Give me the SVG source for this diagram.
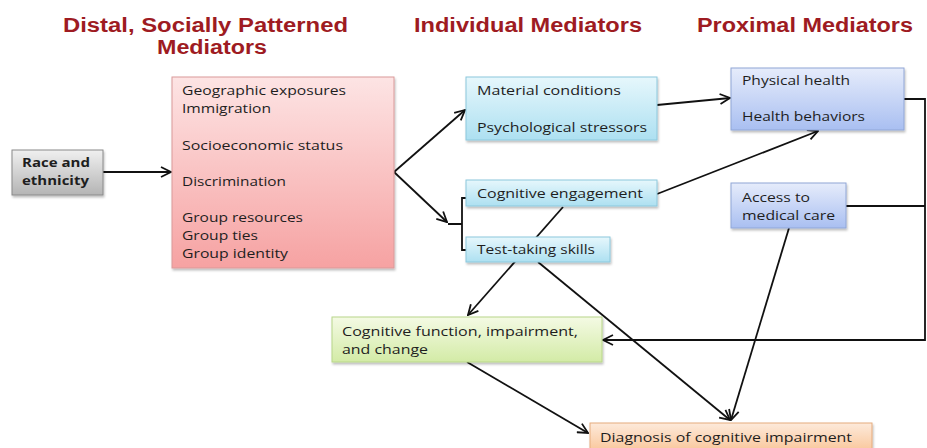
<svg xmlns="http://www.w3.org/2000/svg" width="927" height="448" viewBox="0 0 927 448">
<defs>
<linearGradient id="gGray" x1="0" y1="0" x2="0" y2="1"><stop offset="0" stop-color="#f0f0f0"/><stop offset="1" stop-color="#b4b4b4"/></linearGradient>
<linearGradient id="gPink" x1="0" y1="0" x2="0" y2="1"><stop offset="0" stop-color="#fde4e4"/><stop offset="1" stop-color="#f6a2a2"/></linearGradient>
<linearGradient id="gCyan" x1="0" y1="0" x2="0" y2="1"><stop offset="0" stop-color="#e6f7fc"/><stop offset="1" stop-color="#ade0f1"/></linearGradient>
<linearGradient id="gBlue" x1="0" y1="0" x2="0" y2="1"><stop offset="0" stop-color="#e6ecfb"/><stop offset="1" stop-color="#a9bff1"/></linearGradient>
<linearGradient id="gGreen" x1="0" y1="0" x2="0" y2="1"><stop offset="0" stop-color="#f4fae4"/><stop offset="1" stop-color="#d3eba6"/></linearGradient>
<linearGradient id="gOrange" x1="0" y1="0" x2="0" y2="1"><stop offset="0" stop-color="#fdeadb"/><stop offset="1" stop-color="#f9c292"/></linearGradient>
<filter id="sh" x="-10%" y="-10%" width="120%" height="130%"><feDropShadow dx="1" dy="2" stdDeviation="1.2" flood-color="#000" flood-opacity="0.25"/></filter>
<marker id="ah" viewBox="0 0 12 12" refX="11" refY="6" markerWidth="12" markerHeight="12" markerUnits="userSpaceOnUse" orient="auto">
<path d="M1,1 L11,6 L1,11" fill="none" stroke="#111" stroke-width="1.8"/>
</marker>
</defs>
<style>
.title{font-family:"Liberation Sans",Arial,sans-serif;font-weight:bold;font-size:20px;fill:#9e1b22}
.t{font-family:"Open Sans","DejaVu Sans",sans-serif;font-size:13px;fill:#1e1e1e}
.tb{font-family:"Open Sans","DejaVu Sans",sans-serif;font-size:13px;font-weight:bold;fill:#1e1e1e}
.box{stroke-width:1;filter:url(#sh)}
.c{fill:none;stroke:#111;stroke-width:1.8}
</style>
<rect width="927" height="448" fill="#ffffff"/>

<g id="titles">
<text class="title" x="63" y="32" textLength="285" lengthAdjust="spacingAndGlyphs">Distal, Socially Patterned</text>
<text class="title" x="157" y="54" textLength="110" lengthAdjust="spacingAndGlyphs">Mediators</text>
<text class="title" x="414" y="32" textLength="228" lengthAdjust="spacingAndGlyphs">Individual Mediators</text>
<text class="title" x="697" y="32" textLength="216" lengthAdjust="spacingAndGlyphs">Proximal Mediators</text>
</g>

<g id="connectors">
<line class="c" x1="103" y1="172" x2="171" y2="172" marker-end="url(#ah)"/>
<line class="c" x1="394" y1="172" x2="465" y2="110" marker-end="url(#ah)"/>
<line class="c" x1="394" y1="172" x2="447" y2="222" marker-end="url(#ah)"/>
<path class="c" d="M466,198 H462 V250 H466 M448,224 H462" stroke-width="1.6"/>
<line class="c" x1="657" y1="105" x2="730" y2="98" marker-end="url(#ah)"/>
<line class="c" x1="657" y1="194" x2="818" y2="131" marker-end="url(#ah)"/>
<line class="c" x1="563" y1="207" x2="468" y2="315" marker-end="url(#ah)"/>
<line class="c" x1="538" y1="262" x2="730" y2="420" marker-end="url(#ah)"/>
<line class="c" x1="789" y1="228" x2="731" y2="420" marker-end="url(#ah)"/>
<line class="c" x1="467" y1="362" x2="588" y2="433" marker-end="url(#ah)"/>
<polyline class="c" points="904,99 925,99 925,340 603,340" marker-end="url(#ah)"/>
<line class="c" x1="846" y1="206" x2="925" y2="206"/>
</g>

<g id="race">
<rect class="box" x="12" y="150" width="91" height="45" fill="url(#gGray)" stroke="#8a8a8a"/>
<text class="tb" x="22" y="167" textLength="68" lengthAdjust="spacingAndGlyphs">Race and</text>
<text class="tb" x="22" y="185" textLength="67" lengthAdjust="spacingAndGlyphs">ethnicity</text>
</g>

<g id="distal">
<rect class="box" x="172" y="77" width="222" height="191" fill="url(#gPink)" stroke="#d99a9a"/>
<text class="t" x="182" y="95" textLength="164" lengthAdjust="spacingAndGlyphs">Geographic exposures</text>
<text class="t" x="182" y="113" textLength="89" lengthAdjust="spacingAndGlyphs">Immigration</text>
<text class="t" x="182" y="150" textLength="161" lengthAdjust="spacingAndGlyphs">Socioeconomic status</text>
<text class="t" x="182" y="186" textLength="104" lengthAdjust="spacingAndGlyphs">Discrimination</text>
<text class="t" x="182" y="222" textLength="121" lengthAdjust="spacingAndGlyphs">Group resources</text>
<text class="t" x="182" y="240" textLength="76" lengthAdjust="spacingAndGlyphs">Group ties</text>
<text class="t" x="182" y="258" textLength="106" lengthAdjust="spacingAndGlyphs">Group identity</text>
</g>

<g id="material">
<rect class="box" x="466" y="77" width="191" height="63" fill="url(#gCyan)" stroke="#8cc8dc"/>
<text class="t" x="477" y="95" textLength="144" lengthAdjust="spacingAndGlyphs">Material conditions</text>
<text class="t" x="477" y="132" textLength="170" lengthAdjust="spacingAndGlyphs">Psychological stressors</text>
</g>

<g id="engagement">
<rect class="box" x="466" y="180" width="191" height="26" fill="url(#gCyan)" stroke="#8cc8dc"/>
<text class="t" x="477" y="198" textLength="166" lengthAdjust="spacingAndGlyphs">Cognitive engagement</text>
</g>

<g id="testtaking">
<rect class="box" x="466" y="237" width="144" height="25" fill="url(#gCyan)" stroke="#8cc8dc"/>
<text class="t" x="477" y="254" textLength="118" lengthAdjust="spacingAndGlyphs">Test-taking skills</text>
</g>

<g id="physical">
<rect class="box" x="731" y="68" width="173" height="62" fill="url(#gBlue)" stroke="#90a6d6"/>
<text class="t" x="742" y="85" textLength="108" lengthAdjust="spacingAndGlyphs">Physical health</text>
<text class="t" x="742" y="121" textLength="123" lengthAdjust="spacingAndGlyphs">Health behaviors</text>
</g>

<g id="access">
<rect class="box" x="731" y="183" width="115" height="45" fill="url(#gBlue)" stroke="#90a6d6"/>
<text class="t" x="742" y="202" textLength="68" lengthAdjust="spacingAndGlyphs">Access to</text>
<text class="t" x="742" y="220" textLength="93" lengthAdjust="spacingAndGlyphs">medical care</text>
</g>

<g id="cogfunction">
<rect class="box" x="332" y="317" width="270" height="45" fill="url(#gGreen)" stroke="#b8d68a"/>
<text class="t" x="342" y="336" textLength="236" lengthAdjust="spacingAndGlyphs">Cognitive function, impairment,</text>
<text class="t" x="342" y="354" textLength="86" lengthAdjust="spacingAndGlyphs">and change</text>
</g>

<g id="diagnosis">
<rect class="box" x="590" y="423" width="282" height="32" fill="url(#gOrange)" stroke="#e6ab7c"/>
<text class="t" x="600" y="442" textLength="252" lengthAdjust="spacingAndGlyphs">Diagnosis of cognitive impairment</text>
</g>
</svg>
